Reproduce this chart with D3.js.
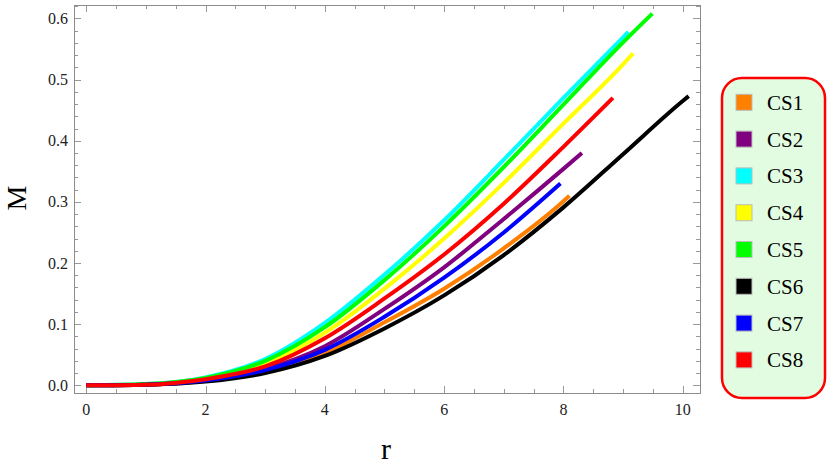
<!DOCTYPE html>
<html>
<head>
<meta charset="utf-8">
<script src="https://cdn.jsdelivr.net/npm/d3@7"></script>
<style>
  body { margin: 0; background: #fff; }
</style>
</head>
<body>
<div id="chart"></div>
<script>
// series names and colours (legend order)
const names = ["CS1", "CS2", "CS3", "CS4", "CS5", "CS6", "CS7", "CS8"];
const colors = ["#ff7f00", "#800080", "#00ffff", "#ffff00", "#00ff00", "#000000", "#0000ff", "#ff0000"];

// radius samples per series (last value = end of curve)
const rCS1 = [0, 1, 2, 3, 4, 5, 6, 7, 8, 8.10];
const mCS1 = [0, 0.001, 0.007, 0.022, 0.053, 0.103, 0.158, 0.224, 0.301, 0.310];

const rCS2 = [0, 1, 2, 3, 4, 5, 6, 7, 8, 8.31];
const mCS2 = [0, 0.001, 0.009, 0.027, 0.064, 0.125, 0.193, 0.272, 0.354, 0.380];

const rCS3 = [0, 1, 2, 3, 4, 5, 6, 7, 8, 9, 9.09];
const mCS3 = [0, 0.002, 0.013, 0.043, 0.102, 0.181, 0.270, 0.369, 0.470, 0.569, 0.578];

const rCS4 = [0, 1, 2, 3, 4, 5, 6, 7, 8, 9, 9.17];
const mCS4 = [0, 0.001, 0.011, 0.036, 0.086, 0.158, 0.240, 0.331, 0.428, 0.525, 0.543];

const rCS5 = [0, 1, 2, 3, 4, 5, 6, 7, 8, 9, 9.49];
const mCS5 = [0, 0.002, 0.012, 0.040, 0.095, 0.172, 0.260, 0.357, 0.459, 0.561, 0.608];

const rCS6 = [0, 1, 2, 3, 4, 5, 6, 7, 8, 9, 10, 10.10];
const mCS6 = [0, 0.001, 0.006, 0.020, 0.048, 0.093, 0.147, 0.213, 0.291, 0.378, 0.465, 0.473];

const rCS7 = [0, 1, 2, 3, 4, 5, 6, 7, 7.95];
const mCS7 = [0, 0.001, 0.008, 0.025, 0.058, 0.112, 0.176, 0.250, 0.330];

const rCS8 = [0, 1, 2, 3, 4, 5, 6, 7, 8, 8.83];
const mCS8 = [0, 0.001, 0.010, 0.031, 0.077, 0.142, 0.214, 0.297, 0.390, 0.470];

const xTicks = [0, 2, 4, 6, 8, 10];
const yTicks = [0.0, 0.1, 0.2, 0.3, 0.4, 0.5, 0.6];

const radii = [rCS1, rCS2, rCS3, rCS4, rCS5, rCS6, rCS7, rCS8];
const masses = [mCS1, mCS2, mCS3, mCS4, mCS5, mCS6, mCS7, mCS8];

const width = 830, height = 468;
const pLeft = 74, pRight = 700, pTop = 5, pBottom = 393;
const serif = "'Liberation Serif', 'Times New Roman', Times, serif";

const svg = d3.select("#chart").append("svg")
  .attr("width", width)
  .attr("height", height)
  .attr("font-family", serif);

const x = d3.scaleLinear().domain([-0.206, 10.29]).range([pLeft, pRight]);
const y = d3.scaleLinear().domain([-0.0126, 0.622]).range([pBottom, pTop]);

const frameColor = "#8c8c8c";

// minor tick values
const xMinor = d3.range(0, 10.01, 0.5).filter(v => xTicks.indexOf(v) < 0);
const yMinor = d3.range(0, 0.621, 0.02).filter(v => Math.abs(Math.round(v * 10) - v * 10) > 0.01);

// frame ticks (pointing inward)
const ticks = svg.append("g").attr("stroke-width", 1);
function tickSet(vals, len, col) {
  vals.forEach(v => {
    const px = Math.round(x(v)) + 0.5;
    ticks.append("line").attr("x1", px).attr("x2", px).attr("y1", pBottom).attr("y2", pBottom - len).attr("stroke", col);
    ticks.append("line").attr("x1", px).attr("x2", px).attr("y1", pTop).attr("y2", pTop + len).attr("stroke", col);
  });
}
function tickSetY(vals, len, col) {
  vals.forEach(v => {
    const py = Math.round(y(v)) + 0.5;
    ticks.append("line").attr("y1", py).attr("y2", py).attr("x1", pLeft).attr("x2", pLeft + len).attr("stroke", col);
    ticks.append("line").attr("y1", py).attr("y2", py).attr("x1", pRight).attr("x2", pRight - len).attr("stroke", col);
  });
}
tickSet(xTicks, 7, "#999");
tickSet(xMinor, 4, "#999");
tickSetY(yTicks, 7, "#999");
tickSetY(yMinor, 4, "#999");

// frame
svg.append("rect")
  .attr("x", pLeft + 0.5).attr("y", pTop + 0.5)
  .attr("width", pRight - pLeft).attr("height", pBottom - pTop)
  .attr("fill", "none").attr("stroke", frameColor).attr("stroke-width", 1);

// tick labels
svg.append("g").selectAll("text").data(xTicks).join("text")
  .attr("x", d => x(d)).attr("y", pBottom + 22)
  .attr("text-anchor", "middle").attr("font-size", 16).attr("fill", "#222")
  .text(d => d);

svg.append("g").selectAll("text").data(yTicks).join("text")
  .attr("x", pLeft - 6).attr("y", d => y(d) + 5.5)
  .attr("text-anchor", "end").attr("font-size", 16).attr("fill", "#222")
  .text(d => d3.format(".1f")(d));

// axis labels
svg.append("text")
  .attr("x", 386).attr("y", 459)
  .attr("text-anchor", "middle").attr("font-size", 30)
  .text("r");

svg.append("text")
  .attr("transform", "translate(26,198) rotate(-90)")
  .attr("text-anchor", "middle").attr("font-size", 28)
  .text("M");

// curves
const line = d3.line()
  .x(d => x(d[0]))
  .y(d => y(d[1]))
  .curve(d3.curveMonotoneX);

const plot = svg.append("g");
names.forEach((n, i) => {
  const pts = radii[i].map((r, j) => [r, masses[i][j]]);
  plot.append("path")
    .attr("d", line(pts))
    .attr("fill", "none")
    .attr("stroke", colors[i])
    .attr("stroke-width", 4);
});

// legend
const lg = svg.append("g");
lg.append("rect")
  .attr("x", 722).attr("y", 78)
  .attr("width", 103).attr("height", 320)
  .attr("rx", 20).attr("ry", 20)
  .attr("fill", "#e2fce2").attr("stroke", "#ff0000").attr("stroke-width", 2.5);

const item = lg.selectAll("g.item").data(names).join("g")
  .attr("class", "item")
  .attr("transform", (d, i) => `translate(0,${102.3 + i * 36.8})`);

item.append("rect")
  .attr("x", 736).attr("y", -8)
  .attr("width", 16).attr("height", 16)
  .attr("fill", (d, i) => colors[i])
  .attr("stroke", "#bbb").attr("stroke-width", 1);

item.append("text")
  .attr("x", 767).attr("y", 7.5)
  .attr("font-size", 21)
  .text(d => d);
</script>
</body>
</html>
